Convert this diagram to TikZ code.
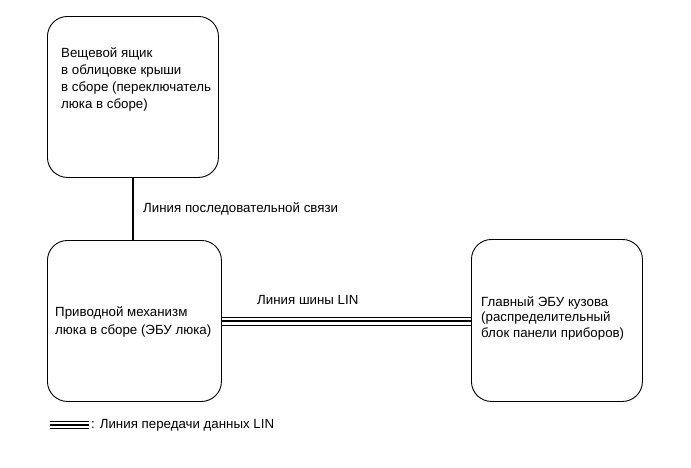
\documentclass[tikz,border=0pt]{standalone}
\usepackage{fontspec}
\setmainfont{Liberation Sans}
\begin{document}
\begin{tikzpicture}[x=1pt,y=-1pt,
  box/.style={draw, line width=0.9pt, rounded corners=20pt, anchor=north west, inner sep=0pt},
  lbl/.style={font=\fontsize{13.3}{17}\selectfont, align=left, inner sep=0pt, anchor=base west},
  thinlin/.style={line width=1pt},
  thicklin/.style={line width=2.2pt}]
\useasboundingbox (0,0) rectangle (691,467);
% boxes
\node[box, minimum width=171pt, minimum height=161pt] (b1) at (47,16) {};
\node[box, minimum width=174pt, minimum height=161pt] (b2) at (47,240) {};
\node[box, minimum width=171pt, minimum height=162pt] (b3) at (471,239) {};
% box texts (base = baseline of last line)
\node[lbl] (t1) at (61,108.5) {Вещевой ящик\\в облицовке крыши\\в сборе (переключатель\\люка в сборе)};
\node[lbl, font=\fontsize{13.3}{18}\selectfont] (t2) at (55,334.5) {Приводной механизм\\люка в сборе (ЭБУ люка)};
\node[lbl, font=\fontsize{13.3}{15.5}\selectfont] (t3) at (481,337) {Главный ЭБУ кузова\\(распределительный\\блок панели приборов)};
% serial line
\draw[line width=2pt] (b1.south) -- (b1.south |- b2.north);
\node[lbl] (s) at (143,212) {Линия последовательной связи};
% LIN bus
\draw[thicklin] (b2.east |- 0,321) -- (b3.west |- 0,321);
\draw[thinlin] (b2.east |- 0,317) -- (b3.west |- 0,317);
\draw[thinlin] (b2.east |- 0,325) -- (b3.west |- 0,325);
\node[lbl] (l) at (257,304) {Линия шины LIN};
% legend
\coordinate (g1) at (50,425);
\coordinate (g2) at (89,425);
\draw[thicklin] (g1) -- (g2);
\draw[thinlin] ([yshift=3.5pt]g1) -- ([yshift=3.5pt]g2);
\draw[thinlin] ([yshift=-3.5pt]g1) -- ([yshift=-3.5pt]g2);
\node[lbl, anchor=west] (gt) at (91,425) {: Линия передачи данных LIN};
\end{tikzpicture}
\end{document}
